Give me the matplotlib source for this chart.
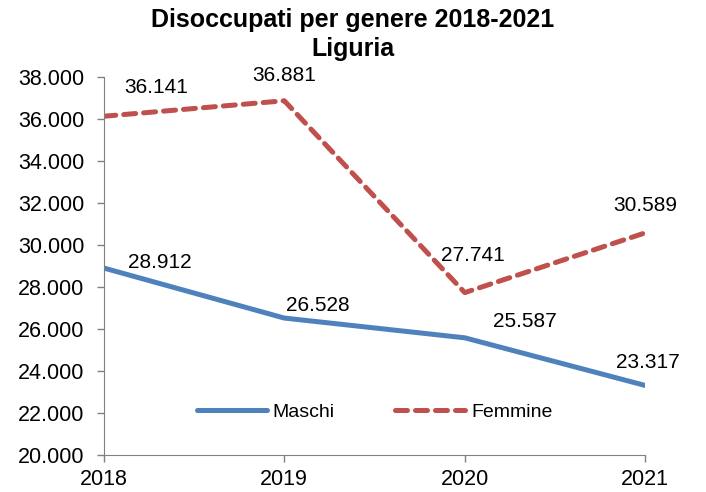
import matplotlib
matplotlib.use("Agg")
import matplotlib.pyplot as plt
from matplotlib.ticker import FuncFormatter

plt.rcParams["font.family"] = ["Liberation Sans", "DejaVu Sans"]

# ---------------- data ----------------
years = [2018, 2019, 2020, 2021]
maschi = [28912, 26528, 25587, 23317]
femmine = [36141, 36881, 27741, 30589]

# label offsets in points (dx, dy) relative to each point
maschi_off = [(40, 4), (24, 9), (43, 11.5), (2, 16.5)]
femmine_off = [(38, 21), (0, 18), (6, 26.5), (0, 20)]

BLUE = "#4F81BD"
RED = "#C0504D"


def it_thousands(v, _pos=None):
    return f"{v:,.0f}".replace(",", ".")


fig = plt.figure(figsize=(7.06, 4.92), dpi=100)
ax = fig.add_axes([0.147, 0.075, 0.767, 0.768])

ax.plot(years, maschi, color=BLUE, lw=3.6, solid_capstyle="round", label="Maschi")
ax.plot(years, femmine, color=RED, lw=3.6, ls=(0, (2.4, 1.6)),
        dash_capstyle="round", label="Femmine")

for x, y, (dx, dy) in zip(years, maschi, maschi_off):
    ax.annotate(it_thousands(y), (x, y), xytext=(dx, dy), textcoords="offset points",
                ha="center", va="center", fontsize=15)
for x, y, (dx, dy) in zip(years, femmine, femmine_off):
    ax.annotate(it_thousands(y), (x, y), xytext=(dx, dy), textcoords="offset points",
                ha="center", va="center", fontsize=15)

ax.set_xlim(2018, 2021)
ax.set_ylim(20000, 38000)
ax.set_xticks(years)
ax.set_yticks(range(20000, 38001, 2000))
ax.yaxis.set_major_formatter(FuncFormatter(it_thousands))
ax.tick_params(labelsize=15.5, direction="out", length=5, color="#808080", width=1)
ax.tick_params(axis="x", pad=5)
ax.tick_params(axis="y", pad=9)

for s in ("top", "right"):
    ax.spines[s].set_visible(False)
for s in ("left", "bottom"):
    ax.spines[s].set_color("#808080")

ax.legend(loc="lower center", bbox_to_anchor=(0.5, 0.045), ncol=2, frameon=False,
          fontsize=14, handlelength=3.6, columnspacing=3.1, handletextpad=0.3)

fig.suptitle("Disoccupati per genere 2018-2021\nLiguria", fontsize=18, fontweight="bold",
             y=0.983, linespacing=1.22)

fig.savefig("out.png", dpi=100)
